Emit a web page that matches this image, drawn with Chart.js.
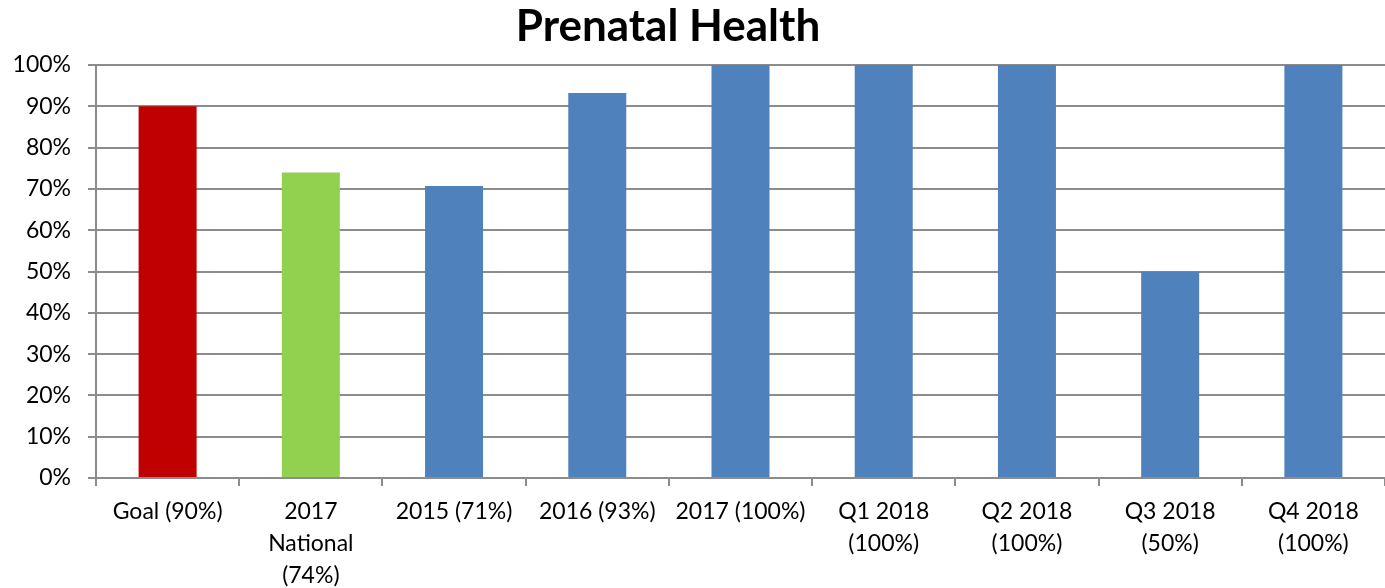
<!DOCTYPE html>
<html>
<head>
<meta charset="utf-8">
<script src="https://cdn.jsdelivr.net/npm/chart.js@4"></script>
<style>
  html, body { margin: 0; padding: 0; background: #fff; }
  #wrap { width: 1385px; height: 588px; }
</style>
</head>
<body>
<div id="wrap"><canvas id="myChart" width="1385" height="588"></canvas></div>
<script>
// categories (multi-line tick labels)
let categories = [
    ["Goal (90%)"],
    ["2017", "National", "(74%)"],
    ["2015 (71%)"],
    ["2016 (93%)"],
    ["2017 (100%)"],
    ["Q1 2018", "(100%)"],
    ["Q2 2018", "(100%)"],
    ["Q3 2018", "(50%)"],
    ["Q4 2018", "(100%)"]
];
let values = [90, 74, 70.7, 93.2, 100, 100, 100, 50, 100];
let yTicks = [0, 10, 20, 30, 40, 50, 60, 70, 80, 90, 100];
let chartTitle = 'Prenatal Health';

let barColors = ["#C00000", "#92D050", "#4F81BD", "#4F81BD", "#4F81BD", "#4F81BD", "#4F81BD", "#4F81BD", "#4F81BD"];
let fontFamily = "Lato, 'Open Sans', 'Liberation Sans', sans-serif";

// title sits a bit left of the canvas centre in the original
const titlePlugin = {
    id: 'leftTitle',
    afterDraw(chart) {
        const c = chart.ctx;
        c.save();
        c.font = "bold 44px " + fontFamily;
        c.fillStyle = '#000';
        c.textAlign = 'center';
        c.textBaseline = 'middle';
        c.fillText(chartTitle, 668, 27);
        c.restore();
    }
};

let ctx = document.getElementById('myChart').getContext('2d');
let myChart = new Chart(ctx, {
    type: 'bar',
    data: {
        labels: categories,
        datasets: [{
            data: values,
            backgroundColor: barColors,
            borderWidth: 0,
            categoryPercentage: 1,
            barPercentage: 0.405
        }]
    },
    options: {
        responsive: false,
        animation: false,
        layout: { padding: { left: 0, right: -2, top: 65, bottom: 0 } },
        plugins: {
            legend: { display: false },
            tooltip: { enabled: false },
            title: { display: false }
        },
        scales: {
            x: {
                offset: true,
                grid: {
                    offset: true,
                    drawOnChartArea: false,
                    drawTicks: true,
                    tickLength: 8,
                    color: '#8c8c8c',
                    lineWidth: 2
                },
                border: { color: '#8c8c8c', width: 2 },
                ticks: {
                    color: '#000',
                    font: { family: fontFamily, size: 23, lineHeight: 1.38 },
                    padding: 10,
                    maxRotation: 0,
                    autoSkip: false
                },
                afterFit: function (scale) { scale.height = 110; }
            },
            y: {
                min: 0,
                max: 100,
                afterBuildTicks: function (scale) {
                    scale.ticks = yTicks.map(v => ({ value: v }));
                },
                grid: {
                    color: '#8c8c8c',
                    lineWidth: 2,
                    drawTicks: true,
                    tickLength: 8
                },
                border: { color: '#8c8c8c', width: 2 },
                ticks: {
                    color: '#000',
                    font: { family: fontFamily, size: 23 },
                    padding: 17,
                    callback: function (v) { return v + '%'; }
                },
                afterFit: function (scale) { scale.width = 96; }
            }
        }
    },
    plugins: [titlePlugin]
});
</script>
</body>
</html>
